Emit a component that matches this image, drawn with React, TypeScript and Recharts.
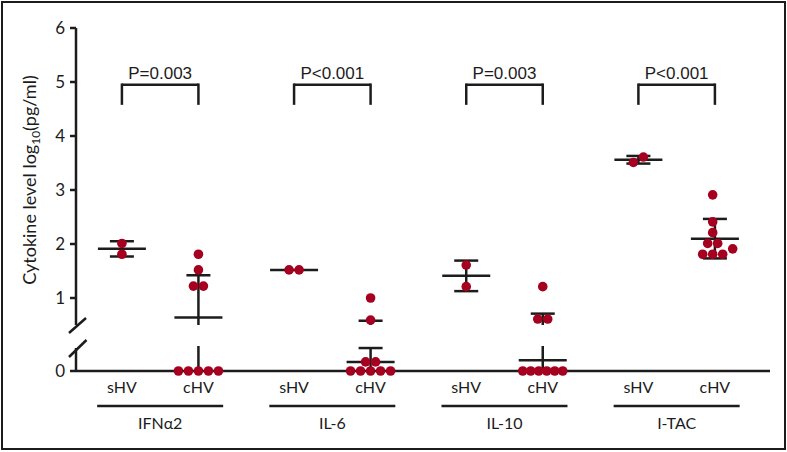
import React from 'react'
import { ComposedChart, Scatter, XAxis, YAxis, ErrorBar, ReferenceLine } from 'recharts'

const groups = ['IFNα2', 'IL-6', 'IL-10', 'I-TAC']
const cohorts = ['sHV', 'cHV']
const pLabels = ['P=0.003', 'P<0.001', 'P=0.003', 'P<0.001']

// log10(pg/ml), 0 = below detection
const ifnShv = [2.01, 1.81]
const ifnChv = [1.81, 1.52, 1.22, 1.22, 0, 0, 0, 0, 0]
const il6Shv = [1.52, 1.52]
const il6Chv = [1.0, 0.59, 0.23, 0.23, 0, 0, 0, 0, 0]
const il10Shv = [1.61, 1.21]
const il10Chv = [1.21, 0.61, 0.61, 0, 0, 0, 0, 0, 0]
const itacShv = [3.51, 3.61]
const itacChv = [2.91, 2.41, 2.21, 2.01, 2.01, 1.91, 1.81, 1.81, 1.81]

const series = [
  [ifnShv, ifnChv],
  [il6Shv, il6Chv],
  [il10Shv, il10Chv],
  [itacShv, itacChv],
]

const upperTicks = [1, 2, 3, 4, 5, 6]
const lowerTicks = [0]
const upperDomain: [number, number] = [0.5, 6]
const lowerDomain: [number, number] = [0, 0.58]
const bracketTop = 4.95
const bracketFoot = 4.6

const W = 787
const H = 452
const RED = '#a5001f'
const INK = '#1c1c1c'
const GROUP_STEP = 2.25
const xDomain: [number, number] = [-0.6, 8.47]
const PX_PER_X = 76.5
const DOT = 10

// plot areas of the two axis segments
const upperMargin = { top: 28, right: 17, bottom: 127, left: 76 }
const lowerMargin = { top: 348, right: 17, bottom: 81, left: 76 }

const mean = (a: number[]) => a.reduce((s, v) => s + v, 0) / a.length
const sd = (a: number[]) => {
  const m = mean(a)
  return Math.sqrt(a.reduce((s, v) => s + (v - m) ** 2, 0) / (a.length - 1))
}

// rough pixel height of a value, only used to keep dots from overlapping
const pxY = (v: number) => (v >= upperDomain[0] ? v * 54 : v * 39.5)

// simple beeswarm: ties spread evenly, rows nudged sideways when they collide
function swarm(values: number[]): number[] {
  const order = values.map((_, i) => i).sort((a, b) => values[a] - values[b])
  const placed: { dx: number; y: number }[] = []
  const out = new Array(values.length).fill(0)
  let k = 0
  while (k < order.length) {
    let j = k
    while (j < order.length && values[order[j]] === values[order[k]]) j++
    const n = j - k
    const step = n > 5 ? 4 / (n - 1) : 1
    const base = Array.from({ length: n }, (_, i) => (i - (n - 1) / 2) * step * DOT)
    const y = pxY(values[order[k]])
    let shift = 0
    for (let t = 0; t < 30; t++) {
      const s = (t % 2 === 1 ? 1 : -1) * Math.ceil(t / 2) * (DOT / 2)
      const ok = base.every((b) => placed.every((p) => Math.hypot(p.dx - (b + s), p.y - y) >= 9))
      if (ok) {
        shift = s
        break
      }
    }
    base.forEach((b, i) => {
      out[order[k + i]] = b + shift
      placed.push({ dx: b + shift, y })
    })
    k = j
  }
  const centre = mean(out)
  return out.map((d) => (d - centre) / PX_PER_X)
}

const columns = series.flatMap((pair, g) =>
  pair.map((vals, s) => ({ g, s, x: g * GROUP_STEP + s, vals }))
)
const points = columns.flatMap((c) => {
  const off = swarm(c.vals)
  return c.vals.map((v, i) => ({ x: c.x + off[i], y: v }))
})
const upperPoints = points.filter((p) => p.y >= upperDomain[0])
const lowerPoints = points.filter((p) => p.y < upperDomain[0])
const summary = columns.map((c) => ({ x: c.x, y: mean(c.vals), sd: sd(c.vals) }))
const xTicks = columns.map((c) => c.x)
const groupTicks = groups.map((_, g) => g * GROUP_STEP + 0.5)

const Dot = (props: any) => <circle cx={props.cx} cy={props.cy} r={4.8} fill={RED} />

const MeanLine = (props: any) => (
  <line x1={props.cx - 24} x2={props.cx + 24} y1={props.cy} y2={props.cy} stroke={INK} strokeWidth={2.5} />
)

const SubTick = (props: any) => (
  <text x={props.x} y={props.y} dy={14} textAnchor="middle" fontSize={16} fontFamily="Lato" fill={INK}>
    {cohorts[props.index % 2]}
  </text>
)

const GroupTick = (props: any) => (
  <g>
    <line x1={props.x - 63} x2={props.x + 63} y1={props.y + 3} y2={props.y + 3} stroke={INK} strokeWidth={2.5} />
    <text x={props.x} y={props.y} dy={26} textAnchor="middle" fontSize={16} fontFamily="Lato" fill={INK}>
      {groups[props.index]}
    </text>
  </g>
)

const axisStroke = { stroke: INK, strokeWidth: 2.5 }
const tickFont = { fill: INK, fontSize: 17, fontFamily: 'Lato' }

const layer: React.CSSProperties = { position: 'absolute', left: 0, top: 0 }

// mean and SD bars, clipped to one axis segment so they break with the axis
function BarsLayer({ margin, domain }: { margin: typeof upperMargin; domain: [number, number] }) {
  return (
    <div
      style={{
        ...layer,
        width: W,
        height: H,
        clipPath: `inset(${margin.top - 2}px 0px ${margin.bottom}px 0px)`,
      }}
    >
      <ComposedChart width={W} height={H} margin={margin}>
        <XAxis type="number" dataKey="x" domain={xDomain} hide allowDataOverflow />
        <YAxis type="number" dataKey="y" domain={domain} hide allowDataOverflow />
        <Scatter data={summary} shape={MeanLine} isAnimationActive={false}>
          <ErrorBar dataKey="sd" direction="y" width={12} stroke={INK} strokeWidth={2.5} isAnimationActive={false} />
        </Scatter>
      </ComposedChart>
    </div>
  )
}

export default function App() {
  return (
    <div style={{ position: 'absolute', left: 0, top: 0, width: W, height: H, background: '#fff' }}>
      <BarsLayer margin={upperMargin} domain={upperDomain} />
      <BarsLayer margin={lowerMargin} domain={lowerDomain} />
      <div style={layer}>
        <ComposedChart width={W} height={H} margin={{ ...upperMargin, left: upperMargin.left - 30 }}>
          <XAxis type="number" dataKey="x" domain={xDomain} hide allowDataOverflow />
          <YAxis
            type="number"
            dataKey="y"
            domain={upperDomain}
            ticks={upperTicks}
            width={30}
            axisLine={axisStroke}
            tickLine={axisStroke}
            tickSize={6}
            tickMargin={5}
            tick={tickFont}
            allowDataOverflow
          />
          {groups.map((_, g) => {
            const a = g * GROUP_STEP
            const b = a + 1
            return (
              <React.Fragment key={g}>
                <ReferenceLine
                  segment={[{ x: a, y: bracketFoot }, { x: a, y: bracketTop }]}
                  stroke={INK}
                  strokeWidth={2.5}
                  strokeLinecap="square"
                />
                <ReferenceLine
                  segment={[{ x: a, y: bracketTop }, { x: b, y: bracketTop }]}
                  stroke={INK}
                  strokeWidth={2.5}
                  label={{
                    value: pLabels[g],
                    position: 'top',
                    offset: 6,
                    fill: INK,
                    fontSize: 17,
                    fontFamily: 'Liberation Sans',
                  }}
                />
                <ReferenceLine
                  segment={[{ x: b, y: bracketTop }, { x: b, y: bracketFoot }]}
                  stroke={INK}
                  strokeWidth={2.5}
                  strokeLinecap="square"
                />
              </React.Fragment>
            )
          })}
          <Scatter data={upperPoints} shape={Dot} isAnimationActive={false} />
        </ComposedChart>
      </div>
      <div style={layer}>
        <ComposedChart width={W} height={H} margin={{ top: lowerMargin.top, right: lowerMargin.right, bottom: 7, left: lowerMargin.left - 30 }}>
          <XAxis
            type="number"
            dataKey="x"
            domain={xDomain}
            ticks={xTicks}
            interval={0}
            height={24}
            axisLine={axisStroke}
            tickLine={false}
            tick={<SubTick />}
            allowDataOverflow
          />
          <XAxis
            xAxisId="grp"
            type="number"
            dataKey="x"
            domain={xDomain}
            ticks={groupTicks}
            interval={0}
            height={50}
            axisLine={false}
            tickLine={false}
            tick={<GroupTick />}
            allowDataOverflow
          />
          <YAxis
            type="number"
            dataKey="y"
            domain={lowerDomain}
            ticks={lowerTicks}
            width={30}
            axisLine={axisStroke}
            tickLine={axisStroke}
            tickSize={6}
            tickMargin={5}
            tick={tickFont}
          />
          <Scatter data={lowerPoints} shape={Dot} isAnimationActive={false} />
        </ComposedChart>
      </div>
      <svg width={W} height={H} style={{ ...layer, pointerEvents: 'none' }}>
        <line x1={69} y1={333} x2={86} y2={318} stroke={INK} strokeWidth={2.5} />
        <line x1={69} y1={357} x2={86.5} y2={340} stroke={INK} strokeWidth={2.5} />
        <text
          transform="translate(36, 180) rotate(-90)"
          textAnchor="middle"
          fontSize={18}
          fontFamily="Lato"
          fill={INK}
        >
          Cytokine level log
          <tspan fontSize={12} dy={4}>10</tspan>
          <tspan dy={-4}>(pg/ml)</tspan>
        </text>
      </svg>
      <div
        style={{
          position: 'absolute',
          left: 1,
          top: 1,
          width: W - 2,
          height: H - 3,
          border: `2px solid ${INK}`,
          boxSizing: 'border-box',
          pointerEvents: 'none',
        }}
      />
    </div>
  )
}
